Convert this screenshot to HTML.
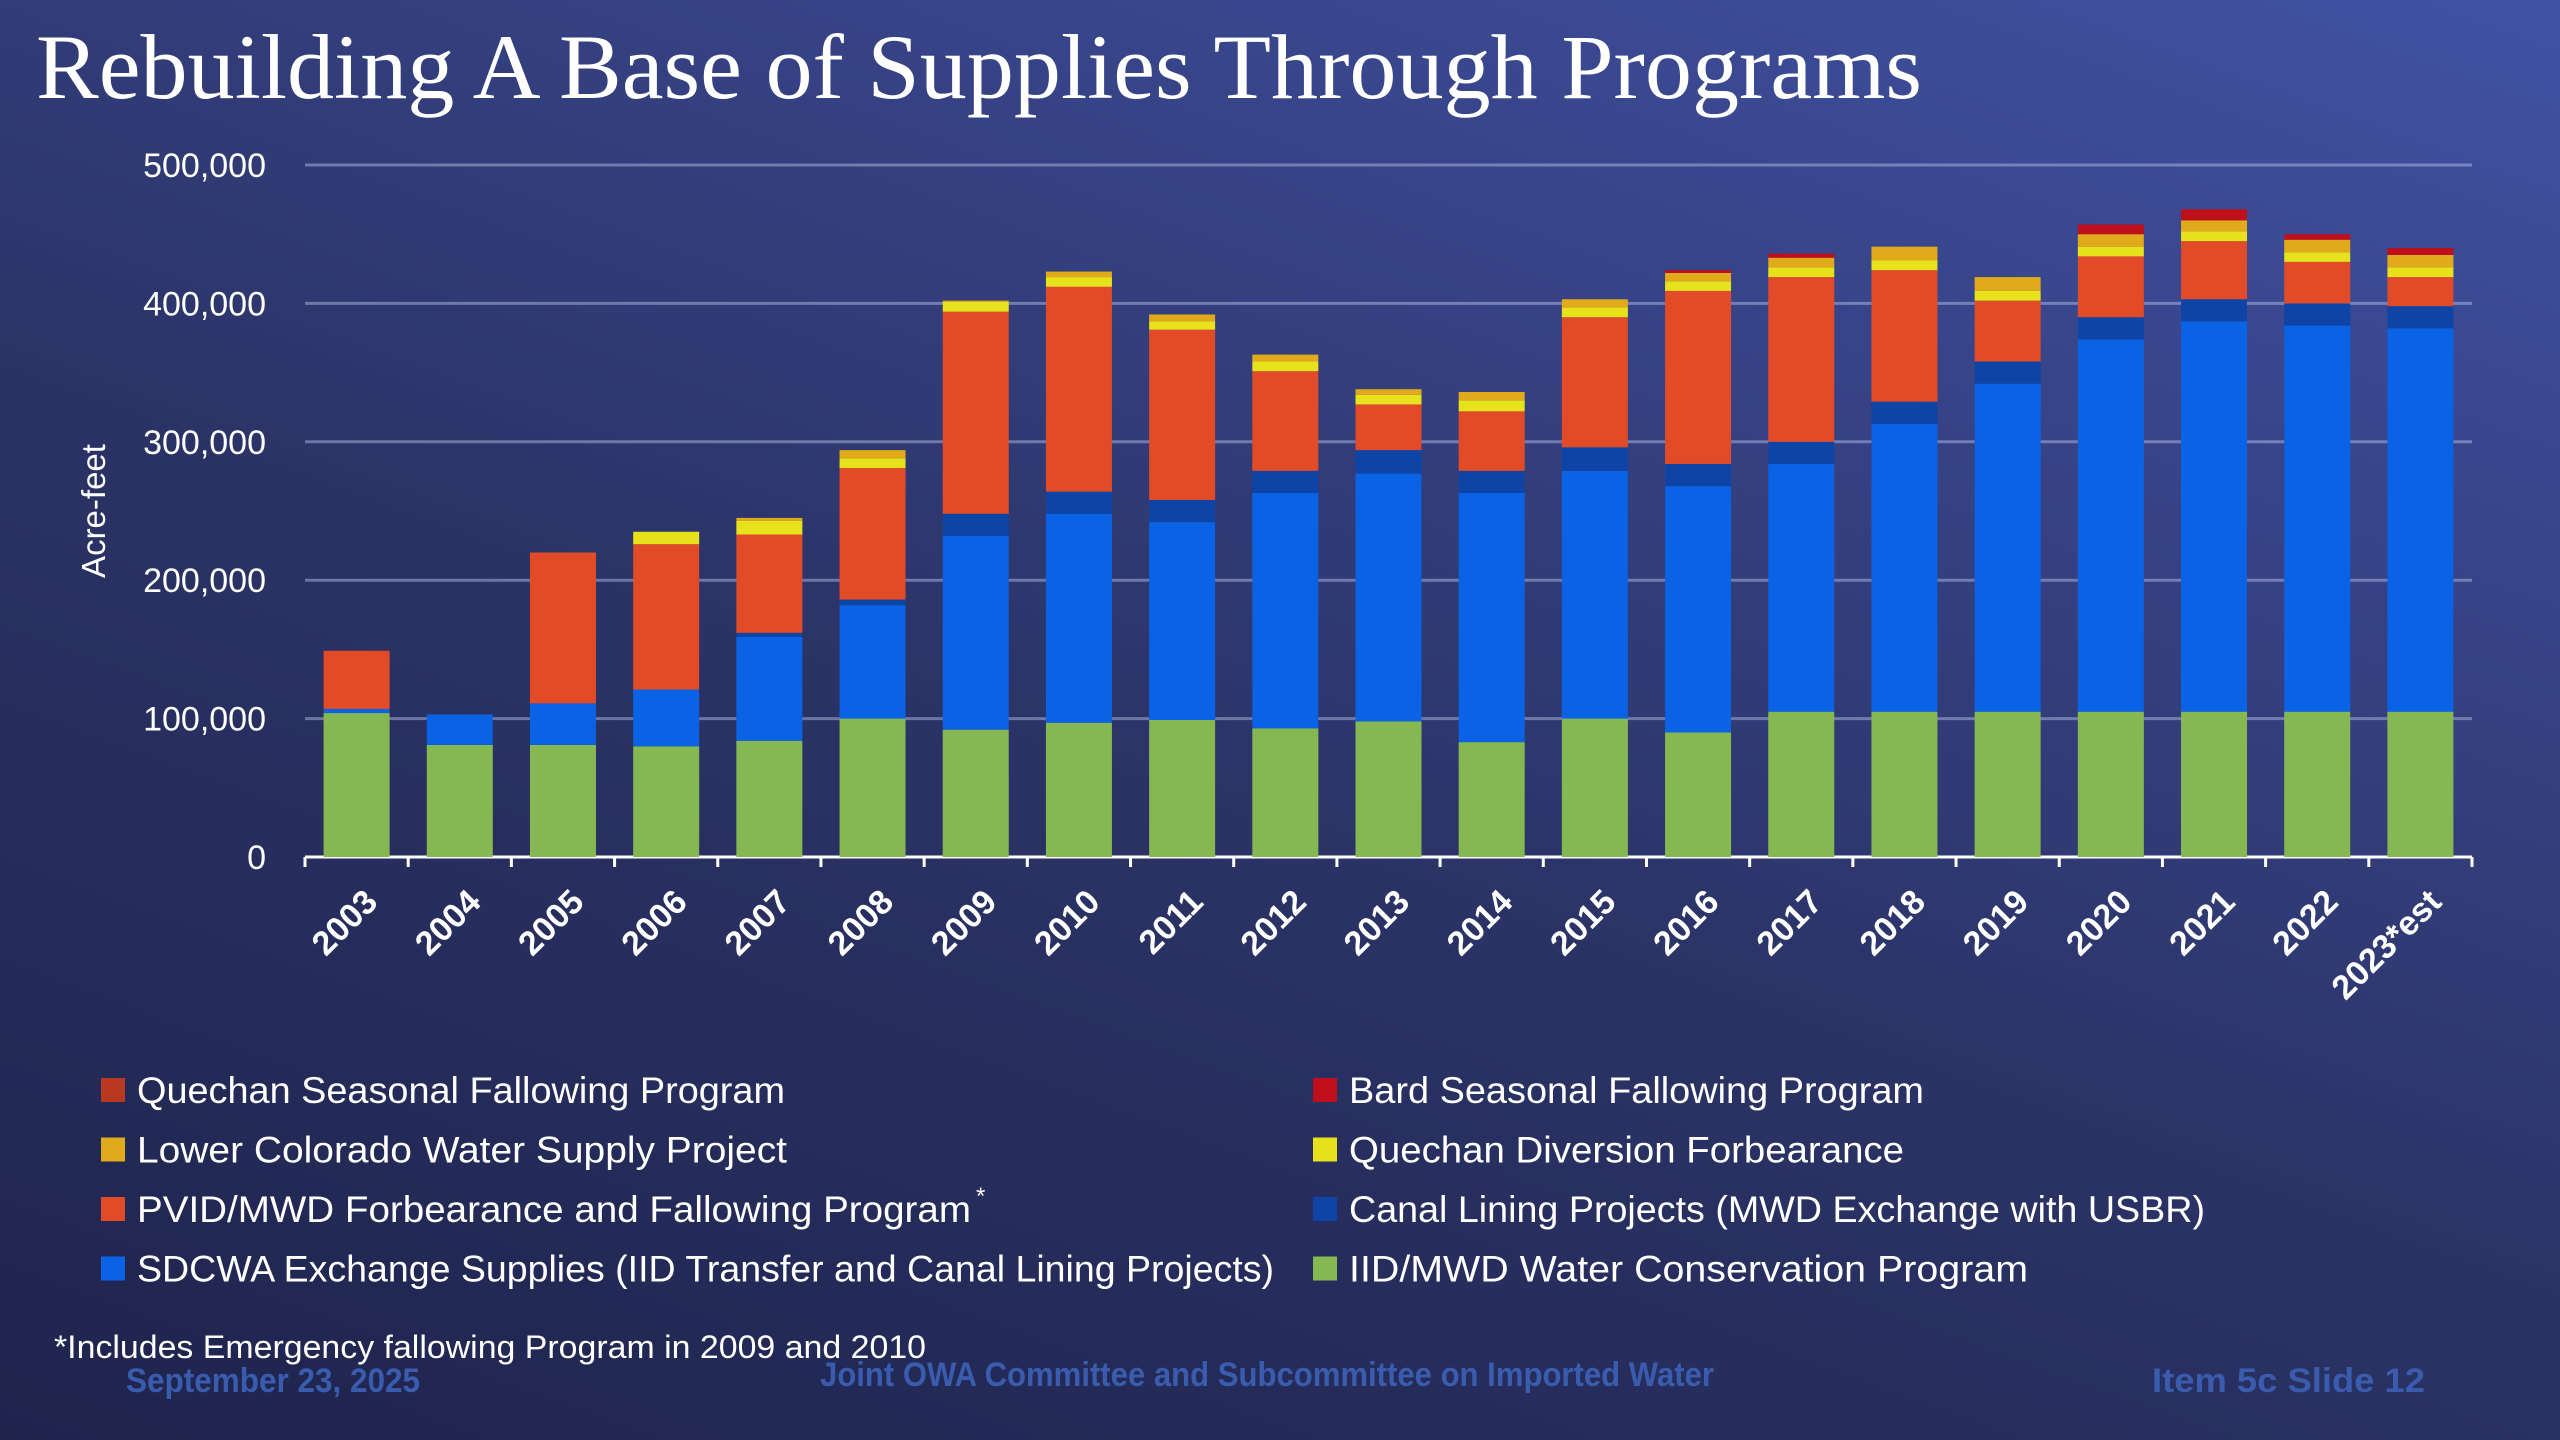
<!DOCTYPE html>
<html><head><meta charset="utf-8"><style>
html,body{margin:0;padding:0;width:2560px;height:1440px;overflow:hidden}
body{background:linear-gradient(20deg,#1f244d 0%,#2b3366 45%,#4152a4 100%);font-family:"Liberation Sans",sans-serif}
svg{position:absolute;left:0;top:0}
</style></head><body>
<svg id="chart" width="2560" height="1440" xmlns="http://www.w3.org/2000/svg">
<text x="36" y="98" textLength="1886" lengthAdjust="spacingAndGlyphs" font-family="Liberation Serif, serif" font-size="92" fill="#fff">Rebuilding A Base of Supplies Through Programs</text>
<text transform="translate(105,511) rotate(-90)" text-anchor="middle" font-size="33" fill="#fff">Acre-feet</text>
<g id="grid"></g><g id="bars"></g><g id="xlabels"></g><g id="legend"></g>
<text x="54" y="1358" font-size="32" fill="#fff" textLength="872" lengthAdjust="spacingAndGlyphs">*Includes Emergency fallowing Program in 2009 and 2010</text>
<text x="126" y="1392" font-size="34" font-weight="bold" fill="#3a5cae" textLength="294" lengthAdjust="spacingAndGlyphs">September 23, 2025</text>
<text x="820" y="1386" font-size="34" font-weight="bold" fill="#3a5cae" textLength="894" lengthAdjust="spacingAndGlyphs">Joint OWA Committee and Subcommittee on Imported Water</text>
<text x="2152" y="1392" font-size="34" font-weight="bold" fill="#3a5cae" textLength="273" lengthAdjust="spacingAndGlyphs">Item  5c   Slide 12</text>
</svg>
<script>
const categories=["2003","2004","2005","2006","2007","2008","2009","2010","2011","2012","2013","2014","2015","2016","2017","2018","2019","2020","2021","2022","2023*est"];
const iidMwd=[104,81,81,80,84,100,92,97,99,93,98,83,100,90,105,105,105,105,105,105,105];
const sdcwa=[3,22,30,41,75,82,140,151,143,170,179,180,179,178,179,208,237,269,282,279,277];
const canalLining=[0,0,0,0,3,4,16,16,16,16,17,16,17,16,16,16,16,16,16,16,16];
const pvidMwd=[42,0,109,105,71,95,146,148,123,72,33,43,94,125,119,95,44,44,42,30,21];
const quechanDiversion=[0,0,0,9,10,7,7,7,6,7,7,8,7,7,7,7,7,7,7,7,7];
const lowerColorado=[0,0,0,0,2,6,1,4,5,5,4,6,6,6,7,10,10,9,8,9,9];
const bardSeasonal=[0,0,0,0,0,0,0,0,0,0,0,0,0,2,3,0,0,7,8,4,5];
const quechanSeasonal=[0,0,0,0,0,0,0,0,0,0,0,0,0,0,0,0,0,0,0,0,0];
const yTicks=[0,100000,200000,300000,400000,500000];
const yTickLabels=["0","100,000","200,000","300,000","400,000","500,000"];

const NS="http://www.w3.org/2000/svg";
const X0=305,X1=2472,Y0=857,Y1=165,YMAX=500;
const slot=(X1-X0)/categories.length, bw=66;
function xScale(i){return X0+slot*(i+0.5);}
function yScale(v){return Y0-(v/YMAX)*(Y0-Y1);}
function mk(tag,attrs,parent){const e=document.createElementNS(NS,tag);for(const k in attrs)e.setAttribute(k,attrs[k]);parent.appendChild(e);return e;}
const grid=document.getElementById('grid');
yTicks.forEach((t,i)=>{
  const y=yScale(t/1000);
  if(i>0){const l=mk('line',{x1:X0,x2:X1,y1:y,y2:y,stroke:'rgba(190,200,240,0.45)','stroke-width':3},grid);
  
  }
  const tx=mk('text',{x:266,y:y+12,'text-anchor':'end','font-size':34,fill:'#fff'},grid);
  tx.textContent=yTickLabels[i];
  
  
});
const axis=mk('line',{x1:X0,x2:X1,y1:Y0,y2:Y0,stroke:'#fff','stroke-width':3},grid);


for(let i=0;i<=categories.length;i++){const x=X0+slot*i;const tk=mk('line',{x1:x,x2:x,y1:Y0,y2:Y0+10,stroke:'#fff','stroke-width':3},grid);

}
const series=[
 {name:"IID/MWD Water Conservation Program",data:iidMwd,color:"#85b853",key:"iid-mwd"},
 {name:"SDCWA Exchange Supplies (IID Transfer and Canal Lining Projects)",data:sdcwa,color:"#0a63e4",key:"sdcwa"},
 {name:"Canal Lining Projects (MWD Exchange with USBR)",data:canalLining,color:"#0d44a6",key:"canal-lining"},
 {name:"PVID/MWD Forbearance and Fallowing Program",data:pvidMwd,color:"#e24b27",key:"pvid-mwd"},
 {name:"Quechan Diversion Forbearance",data:quechanDiversion,color:"#e7e21b",key:"quechan-diversion"},
 {name:"Lower Colorado Water Supply Project",data:lowerColorado,color:"#e0aa1b",key:"lower-colorado"},
 {name:"Bard Seasonal Fallowing Program",data:bardSeasonal,color:"#be0f1b",key:"bard-seasonal"},
 {name:"Quechan Seasonal Fallowing Program",data:quechanSeasonal,color:"#b8391f",key:"quechan-seasonal"}];
const bars=document.getElementById('bars');
categories.forEach((c,i)=>{
  let acc=0;
  series.forEach(s=>{
    const v=s.data[i]; if(v<=0)return;
    const yt=yScale(acc+v), yb=yScale(acc);
    const r=mk('rect',{x:xScale(i)-bw/2,y:yt,width:bw,height:yb-yt,fill:s.color},bars);
    
    
    acc+=v;
  });
});
const xl=document.getElementById('xlabels');
categories.forEach((c,i)=>{
  const x=xScale(i)+6,y=Y0+30;
  const t=mk('text',{x:x,y:y,'text-anchor':'end','font-size':34,'font-weight':'bold',fill:'#fff',transform:`rotate(-45 ${x} ${y})`,dy:'0.7em'},xl);
  t.textContent=c;
  
  
});
const legendOrder=[7,6,5,4,3,2,1,0];
const legendLens=[648,575,650,555,834,856,1137,679];
const lg=document.getElementById('legend');
legendOrder.forEach((si,k)=>{
  const s=series[si];const col=k%2,row=Math.floor(k/2);
  const sx=col?1313:101, y=1091+row*59.5;
  const g=mk('g',{},lg);
  
  
  mk('rect',{x:sx,y:y-13,width:24,height:24,fill:s.color},g);
  const t=mk('text',{x:sx+36,y:y+12,'font-size':37,fill:'#fff',textLength:legendLens[k],lengthAdjust:'spacingAndGlyphs'},g);
  t.textContent=s.name;
  if(si===3){const a=mk('text',{x:976,y:y-6,'font-size':24,fill:'#fff'},g);a.textContent='*';}
});
</script>
</body></html>
